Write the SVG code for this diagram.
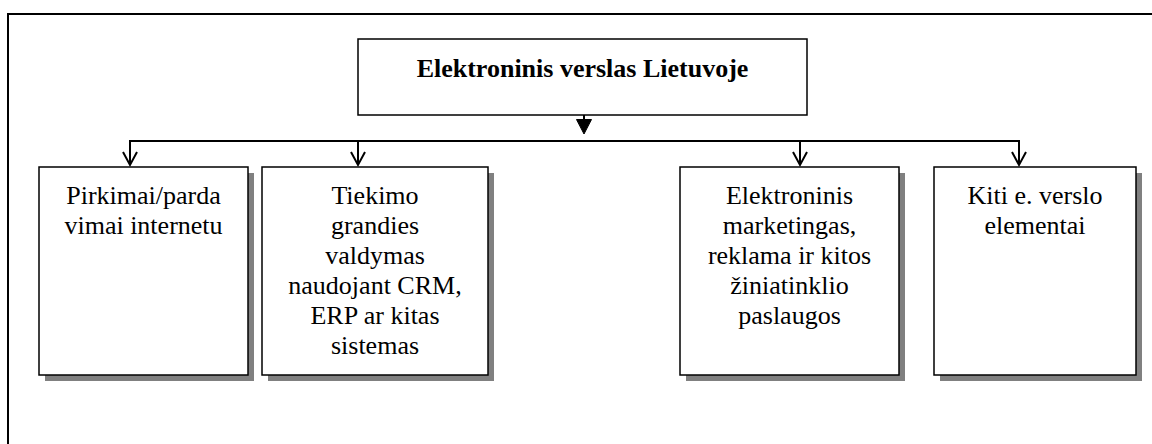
<svg xmlns="http://www.w3.org/2000/svg" width="1152" height="444" viewBox="0 0 1152 444">
  <style>
    .frame { fill: none; stroke: #000; stroke-width: 2; }
    .box { fill: #fff; stroke: #000; stroke-width: 1.5; }
    .shadow { fill: #808080; stroke: none; }
    .conn { fill: none; stroke: #000; stroke-width: 2; }
    .head { fill: #000; stroke: #000; stroke-width: 1; }
    .t { font-family: "Liberation Serif", "Times New Roman", serif; font-size: 26px; fill: #000; text-anchor: middle; }
    .b { font-weight: bold; }
  </style>
  <rect x="0" y="0" width="1152" height="444" fill="#fff"/>
  <path class="frame" d="M8,444 V14 H1152"/>

  <g id="connectors">
    <line class="conn" x1="584" y1="111" x2="584" y2="122"/>
    <polygon class="head" points="576.5,119.5 591.5,119.5 584,134"/>
    <line class="conn" x1="129" y1="141" x2="1020" y2="141"/>
    <line class="conn" x1="130" y1="141" x2="130" y2="165"/>
    <polyline class="conn" points="123,152 130,165 137,152"/>
    <line class="conn" x1="358" y1="141" x2="358" y2="165"/>
    <polyline class="conn" points="351,152 358,165 365,152"/>
    <line class="conn" x1="800" y1="141" x2="800" y2="165"/>
    <polyline class="conn" points="793,152 800,165 807,152"/>
    <line class="conn" x1="1019" y1="141" x2="1019" y2="165"/>
    <polyline class="conn" points="1012,152 1019,165 1026,152"/>
  </g>

  <g id="node-root">
    <rect class="box" x="358" y="39" width="449" height="76"/>
    <text class="t b" x="582.5" y="77">Elektroninis verslas Lietuvoje</text>
  </g>

  <g id="node-pirkimai">
    <rect class="shadow" x="45" y="173" width="209" height="208"/>
    <rect class="box" x="39" y="167" width="209" height="208"/>
    <text class="t" x="143.5" y="204">Pirkimai/parda</text>
    <text class="t" x="143.5" y="234">vimai internetu</text>
  </g>

  <g id="node-tiekimo">
    <rect class="shadow" x="268" y="173" width="226" height="208"/>
    <rect class="box" x="262" y="167" width="226" height="208"/>
    <text class="t" x="375" y="204">Tiekimo</text>
    <text class="t" x="375" y="234">grandies</text>
    <text class="t" x="375" y="264">valdymas</text>
    <text class="t" x="375" y="294">naudojant CRM,</text>
    <text class="t" x="375" y="324">ERP ar kitas</text>
    <text class="t" x="375" y="354">sistemas</text>
  </g>

  <g id="node-marketingas">
    <rect class="shadow" x="686" y="173" width="219" height="208"/>
    <rect class="box" x="680" y="167" width="219" height="208"/>
    <text class="t" x="789.5" y="204">Elektroninis</text>
    <text class="t" x="789.5" y="234">marketingas,</text>
    <text class="t" x="789.5" y="264">reklama ir kitos</text>
    <text class="t" x="789.5" y="294">žiniatinklio</text>
    <text class="t" x="789.5" y="324">paslaugos</text>
  </g>

  <g id="node-kiti">
    <rect class="shadow" x="940" y="173" width="202" height="208"/>
    <rect class="box" x="934" y="167" width="202" height="208"/>
    <text class="t" x="1035" y="204">Kiti e. verslo</text>
    <text class="t" x="1035" y="234">elementai</text>
  </g>
</svg>
